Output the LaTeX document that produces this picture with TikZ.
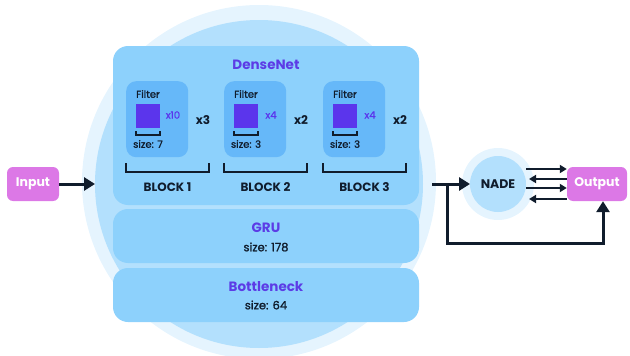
\documentclass[tikz,border=0pt]{standalone}
\usepackage{fontspec}
\setmainfont{Poppins}
\newfontfamily\medfont{Poppins}[FakeBold=1.2]
\usepackage{xcolor}
\usepackage{tikz}
\usetikzlibrary{arrows.meta, positioning}
\definecolor{HaloBlue}{HTML}{e5f4fe}
\definecolor{RingBlue}{HTML}{b3e0fd}
\definecolor{LayerBlue}{HTML}{8dd1fc}
\definecolor{FilterBlue}{HTML}{66b8f9}
\definecolor{KernelPurple}{HTML}{5b35ec}
\definecolor{TitlePurple}{HTML}{5c3ce6}
\definecolor{InkNavy}{HTML}{101c2c}
\definecolor{IOPink}{HTML}{dc78e6}

\begin{document}
\begin{tikzpicture}[
    x=1pt, y=-1pt,
    layer/.style={rectangle, rounded corners=15pt, fill=LayerBlue, minimum width=306pt,
                  inner sep=0pt, outer sep=0pt, anchor=north},
    filterbox/.style={rectangle, rounded corners=10pt, fill=FilterBlue, minimum width=62pt,
                      minimum height=76pt, inner sep=0pt, anchor=north west},
    kernel/.style={rectangle, fill=KernelPurple, minimum size=24pt, inner sep=0pt},
    title/.style={font=\fontsize{13.5}{15}\selectfont\bfseries, text=TitlePurple},
    note/.style={font=\fontsize{10}{12}\selectfont\medfont, text=InkNavy, inner sep=0pt},
    sizenote/.style={font=\fontsize{11.5}{13}\selectfont\medfont, text=InkNavy, inner sep=0pt},
    count/.style={font=\fontsize{12}{14}\selectfont\bfseries, text=InkNavy, inner sep=0pt},
    io/.style={rectangle, rounded corners=6pt, fill=IOPink, text=white, minimum width=52pt,
               minimum height=34pt, font=\fontsize{12.5}{14}\selectfont\bfseries},
    arrow/.style={-{Triangle[length=11pt, width=13pt]}, line width=3pt, draw=InkNavy},
    thin arrow/.style={-{Triangle[length=7pt, width=8pt]}, line width=2.3pt, draw=InkNavy},
    bracket/.style={line width=2.2pt, draw=InkNavy}
]
\clip (0,0) rectangle (630,356);

% encoder background
\node[circle, fill=HaloBlue, minimum size=354pt, inner sep=0pt, outer sep=0pt] (halo) at (259,182) {};
\node[circle, fill=RingBlue, minimum size=328pt, inner sep=0pt, outer sep=0pt] (ring) at (259,184) {};

% layers
\node[layer, minimum height=159pt] (dense) at (266,46) {};
\node[layer, minimum height=54pt] (gru) at (266,209) {};
\node[layer, minimum height=54pt] (bottle) at (266,268) {};

\node[title] (densetitle) at (266,65) {DenseNet};
\node[title] (grutitle) at (266,228) {GRU};
\node[sizenote] (grusize) at (266,247) {size: 178};
\node[title] (bottletitle) at (266,287) {Bottleneck};
\node[sizenote] (bottlesize) at (266,305) {size: 64};

% dense blocks
\foreach \b/\fx/\rep/\mult/\ks in {1/126/10/3/7, 2/224/4/2/3, 3/323/4/2/3} {
    \node[filterbox] (f\b) at (\fx,81) {};
    \node[note] (ft\b) at (\fx+22,94) {Filter};
    \node[kernel] (k\b) at (\fx+22,115.5) {};
    \draw[bracket, line width=1.5pt] ([yshift=-3.5pt]k\b.south west) -- ++(0,4) -| ([yshift=-3.5pt]k\b.south east);
    \node[note] (ks\b) at (\fx+22,144) {size: \ks};
    \node[note, text=KernelPurple] (rep\b) at (\fx+47,115) {x\rep};
    \node[count] (mult\b) at (\fx+77,120) {x\mult};
    \draw[bracket] (\fx,163) -- (\fx,172) -- (\fx+83,172) -- (\fx+83,163);
    \node[count] (blk\b) at (\fx+41.5,187) {BLOCK \b};
}

% input / output side
\node[io] (input) at (33,184) {Input};
\node[io, minimum width=60pt] (output) at (597,184) {Output};
\node[circle, fill=HaloBlue, minimum size=72pt, inner sep=0pt] (nadehalo) at (498,184) {};
\node[circle, fill=RingBlue, minimum size=56pt, inner sep=0pt, outer sep=0pt,
      font=\fontsize{12.5}{14}\selectfont\bfseries, text=InkNavy] (nade) at (498,184) {NADE};
\coordinate (encout) at (432,184);
\coordinate (split) at (447,184);

\draw[arrow] (input.east) -- (ring.west);
\draw[arrow] (encout) -- (nade.west);
\draw[arrow] (split) -- ++(0,59) -| ([xshift=6pt]output.south);

\draw[thin arrow] ([yshift=15pt]nade.east) -- ([yshift=15pt]output.west);
\draw[thin arrow] ([yshift=5pt]output.west) -- ([yshift=5pt,xshift=3pt]nade.east);
\draw[thin arrow] ([yshift=-4pt]nade.east) -- ([yshift=-4pt]output.west);
\draw[thin arrow] ([yshift=-15pt]output.west) -- ([yshift=-15pt,xshift=3pt]nade.east);

\end{tikzpicture}
\end{document}
